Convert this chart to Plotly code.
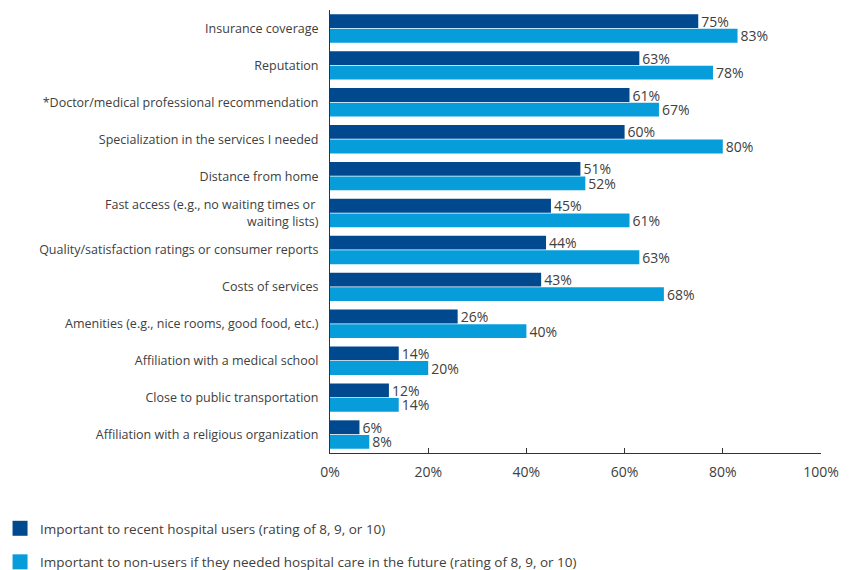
import plotly.graph_objects as go

categories = [
    "Insurance coverage",
    "Reputation",
    "*Doctor/medical professional recommendation",
    "Specialization in the services I needed",
    "Distance from home",
    "Fast access (e.g., no waiting times or <br>waiting lists)",
    "Quality/satisfaction ratings or consumer reports",
    "Costs of services",
    "Amenities (e.g., nice rooms, good food, etc.)",
    "Affiliation with a medical school",
    "Close to public transportation",
    "Affiliation with a religious organization",
]
users = [75, 63, 61, 60, 51, 45, 44, 43, 26, 14, 12, 6]
nonusers = [83, 78, 67, 80, 52, 61, 63, 68, 40, 20, 14, 8]
series_names = [
    "Important to recent hospital users (rating of 8, 9, or 10)",
    "Important to non-users if they needed hospital care in the future (rating of 8, 9, or 10)",
]
x_ticks = [0, 20, 40, 60, 80, 100]
x_ticklabels = ["0%", "20%", "40%", "60%", "80%", "100%"]

DARK = "#00498F"
LIGHT = "#079DDB"
TXT = "#404040"
FONT = "Open Sans"
FS = 12.5

fig = go.Figure()
series = [(series_names[0], users, DARK, "a"), (series_names[1], nonusers, LIGHT, "b")]
for name, vals, col, grp in series:
    fig.add_trace(go.Bar(
        y=categories, x=vals, orientation="h", name=name,
        marker=dict(color=col, line=dict(width=0)),
        text=[f"{v}%" for v in vals], textposition="outside",
        constraintext="none",
        textfont=dict(color=TXT, size=14, family=FONT),
        cliponaxis=False, legendgroup=grp, showlegend=False,
    ))
# legend entries (square swatches)
for name, vals, col, grp in series:
    fig.add_trace(go.Scatter(
        x=[None], y=[None], mode="markers", name=name, legendgroup=grp,
        marker=dict(symbol="square", size=15, color=col), showlegend=True,
        hoverinfo="skip",
    ))

fig.update_layout(
    width=854, height=570,
    margin=dict(l=322, r=41, t=2, b=125, autoexpand=False),
    paper_bgcolor="white", plot_bgcolor="white",
    barmode="group", bargap=0.21, bargroupgap=0.05,
    font=dict(family=FONT, size=FS, color=TXT),
    showlegend=True,
    legend=dict(
        orientation="v", x=-0.672, xref="paper", xanchor="left",
        y=-0.2822, yref="paper", yanchor="bottom",
        traceorder="grouped", tracegroupgap=13,
        font=dict(size=13.5, color=TXT, family=FONT),
        itemwidth=30, bgcolor="rgba(0,0,0,0)",
    ),
)
fig.update_xaxes(
    range=[0, 100], tickvals=x_ticks, ticktext=x_ticklabels,
    showgrid=False, zeroline=False, showline=True, linecolor="#333333", linewidth=1,
    ticks="inside", ticklen=5, tickcolor="#333333", tickfont=dict(size=14, color=TXT),
    ticklabelstandoff=6, fixedrange=True,
)
fig.update_yaxes(
    autorange="reversed", showgrid=False, showline=True, linecolor="#333333", linewidth=1,
    ticks="", ticklabelstandoff=8, tickfont=dict(size=FS, color=TXT),
)

fig.write_html("out.html")
